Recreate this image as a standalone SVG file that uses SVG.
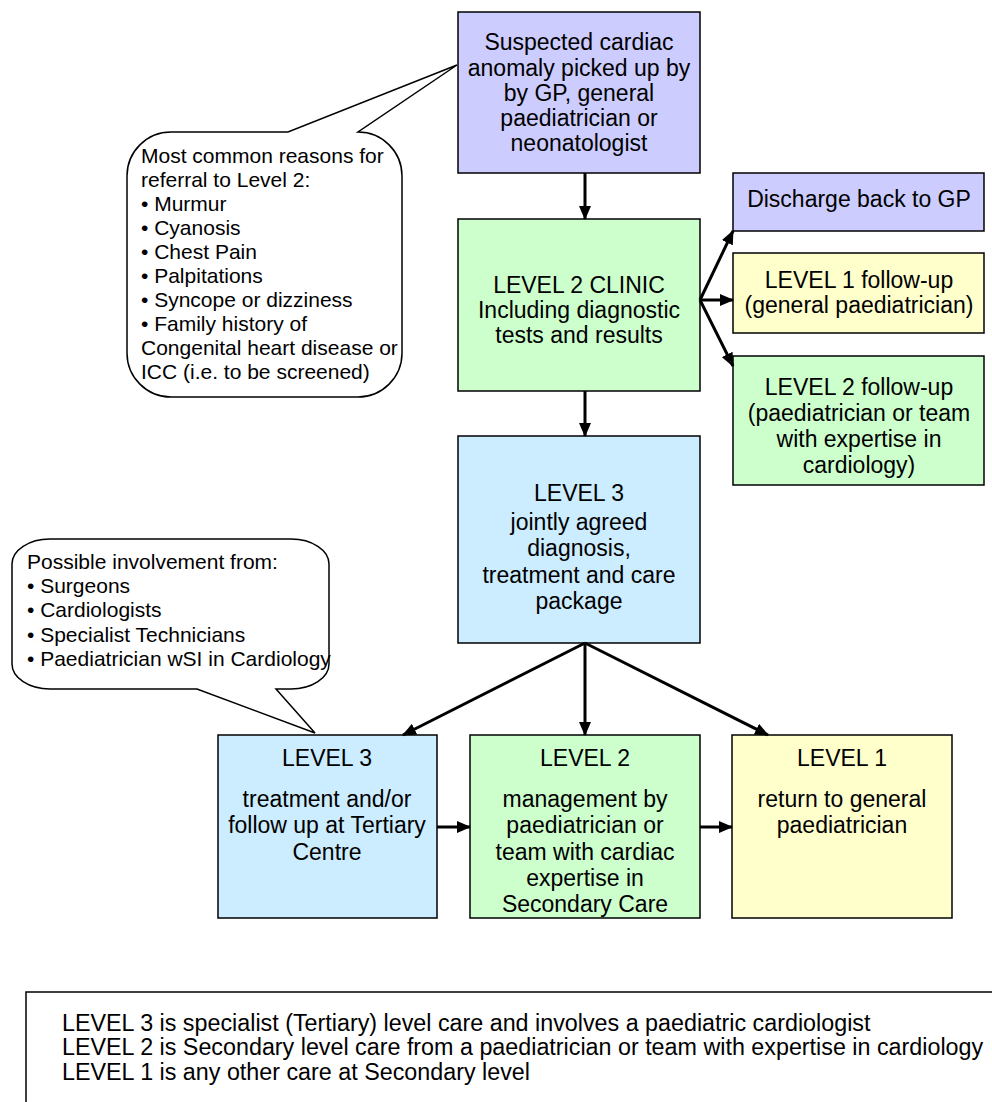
<svg xmlns="http://www.w3.org/2000/svg" width="992" height="1102" viewBox="0 0 992 1102">
<style>
text{font-family:"Liberation Sans",Arial,sans-serif;fill:#000}
.t{font-size:23px;text-anchor:middle}
.c{font-size:21px}
.lg{font-size:23.3px}
.box{stroke:#000;stroke-width:1.5}
.purple{fill:#CCCCFF}
.green{fill:#CCFFCC}
.blue{fill:#CCECFF}
.yellow{fill:#FFFFCC}
.call{fill:#fff;stroke:#000;stroke-width:1.5}
.ar{stroke:#000;stroke-width:3;fill:none;marker-end:url(#ah)}
</style>
<defs>
<marker id="ah" markerUnits="userSpaceOnUse" markerWidth="14" markerHeight="12" refX="13" refY="6" orient="auto" viewBox="0 0 14 12">
<path d="M0,0 L14,6 L0,12 z" fill="#000"/>
</marker>
</defs>
<rect width="992" height="1102" fill="#fff"/>

<g id="callout-referral">
<path class="call" d="M127,176 A44,44 0 0 1 171,132 L288,132 L457,65 L358,132 A44,44 0 0 1 402,176 L402,353 A44,44 0 0 1 358,397 L171,397 A44,44 0 0 1 127,353 Z"/>
<text class="c"><tspan x="141" y="163">Most common reasons for</tspan><tspan x="141" y="187">referral to Level 2:</tspan><tspan x="141" y="211">• Murmur</tspan><tspan x="141" y="235">• Cyanosis</tspan><tspan x="141" y="259">• Chest Pain</tspan><tspan x="141" y="283">• Palpitations</tspan><tspan x="141" y="307">• Syncope or dizziness</tspan><tspan x="141" y="331">• Family history of</tspan><tspan x="141" y="355">Congenital heart disease or</tspan><tspan x="141" y="379">ICC (i.e. to be screened)</tspan></text>
</g>

<g id="callout-involvement">
<path class="call" d="M12,564 A38,25 0 0 1 50,539 L291,539 A38,25 0 0 1 329,564 L329,664 A38,25 0 0 1 291,689 L276,689 L315,733 L197,689 L50,689 A38,25 0 0 1 12,664 Z"/>
<text class="c"><tspan x="27" y="569">Possible involvement from:</tspan><tspan x="27" y="593">• Surgeons</tspan><tspan x="27" y="617">• Cardiologists</tspan><tspan x="27" y="642">• Specialist Technicians</tspan><tspan x="27" y="666">• Paediatrician wSI in Cardiology</tspan></text>
</g>

<g id="suspected">
<rect class="box purple" x="458" y="12" width="242" height="161"/>
<text class="t"><tspan x="579" y="50">Suspected cardiac</tspan><tspan x="579" y="76">anomaly picked up by</tspan><tspan x="579" y="101">by GP, general</tspan><tspan x="579" y="126">paediatrician or</tspan><tspan x="579" y="151">neonatologist</tspan></text>
</g>

<g id="clinic">
<rect class="box green" x="458" y="219" width="242" height="172"/>
<text class="t"><tspan x="579" y="293">LEVEL 2 CLINIC</tspan><tspan x="579" y="318">Including diagnostic</tspan><tspan x="579" y="343">tests and results</tspan></text>
</g>

<g id="discharge">
<rect class="box purple" x="733" y="173" width="251" height="58"/>
<text class="t"><tspan x="859" y="207">Discharge back to GP</tspan></text>
</g>

<g id="l1-followup">
<rect class="box yellow" x="733" y="253" width="251" height="80"/>
<text class="t"><tspan x="859" y="288">LEVEL 1 follow-up</tspan><tspan x="859" y="313">(general paediatrician)</tspan></text>
</g>

<g id="l2-followup">
<rect class="box green" x="733" y="356" width="251" height="129"/>
<text class="t"><tspan x="859" y="395">LEVEL 2 follow-up</tspan><tspan x="859" y="421">(paediatrician or team</tspan><tspan x="859" y="447">with expertise in</tspan><tspan x="859" y="473">cardiology)</tspan></text>
</g>

<g id="level3">
<rect class="box blue" x="458" y="436" width="242" height="207"/>
<text class="t"><tspan x="579" y="501">LEVEL 3</tspan><tspan x="579" y="530">jointly agreed</tspan><tspan x="579" y="556">diagnosis,</tspan><tspan x="579" y="583">treatment and care</tspan><tspan x="579" y="609">package</tspan></text>
</g>

<g id="tertiary">
<rect class="box blue" x="218" y="735" width="219" height="183"/>
<text class="t"><tspan x="327" y="766">LEVEL 3</tspan><tspan x="327" y="807">treatment and/or</tspan><tspan x="327" y="833">follow up at Tertiary</tspan><tspan x="327" y="860">Centre</tspan></text>
</g>

<g id="secondary">
<rect class="box green" x="470" y="735" width="230" height="183"/>
<text class="t"><tspan x="585" y="766">LEVEL 2</tspan><tspan x="585" y="807">management by</tspan><tspan x="585" y="833">paediatrician or</tspan><tspan x="585" y="860">team with cardiac</tspan><tspan x="585" y="886">expertise in</tspan><tspan x="585" y="912">Secondary Care</tspan></text>
</g>

<g id="general">
<rect class="box yellow" x="732" y="735" width="220" height="183"/>
<text class="t"><tspan x="842" y="766">LEVEL 1</tspan><tspan x="842" y="807">return to general</tspan><tspan x="842" y="833">paediatrician</tspan></text>
</g>

<g id="legend">
<rect x="26" y="992" width="1000" height="200" fill="#fff" stroke="#000" stroke-width="1.5"/>
<text class="lg"><tspan x="62" y="1031">LEVEL 3 is specialist (Tertiary) level care and involves a paediatric cardiologist</tspan><tspan x="62" y="1055">LEVEL 2 is Secondary level care from a paediatrician or team with expertise in cardiology</tspan><tspan x="62" y="1080">LEVEL 1 is any other care at Secondary level</tspan></text>
</g>

<g id="connectors">
<line class="ar" x1="585" y1="173" x2="585" y2="219"/>
<line class="ar" x1="585" y1="391" x2="585" y2="436"/>
<line class="ar" x1="700" y1="300" x2="733" y2="231"/>
<line class="ar" x1="700" y1="300" x2="733" y2="300"/>
<line class="ar" x1="700" y1="300" x2="733" y2="366"/>
<line class="ar" x1="585" y1="643" x2="403" y2="735"/>
<line class="ar" x1="585" y1="643" x2="585" y2="735"/>
<line class="ar" x1="585" y1="643" x2="768" y2="735"/>
<line class="ar" x1="437" y1="827" x2="470" y2="827"/>
<line class="ar" x1="700" y1="827" x2="732" y2="827"/>
</g>
</svg>
